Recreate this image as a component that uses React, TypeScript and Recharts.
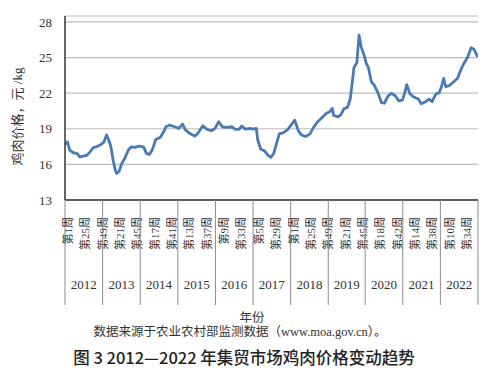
import React from 'react';
import { LineChart, Line, XAxis, YAxis, CartesianGrid } from 'recharts';

// ---- data ----
const years = [2012, 2013, 2014, 2015, 2016, 2017, 2018, 2019, 2020, 2021, 2022];
const weeksInYear = [52, 52, 52, 52, 52, 52, 52, 51, 52, 52, 52];

// [week, price (元/kg)] readings per year
const p2012: [number, number][] = [
  [1, 17.7], [4, 17.9], [7, 17.2], [12, 16.98], [17, 16.93], [21, 16.64], [26, 16.7],
  [31, 16.78], [35, 17.06], [40, 17.43], [44, 17.48], [49, 17.63],
];
const p2013: [number, number][] = [
  [2, 17.85], [6, 18.47], [9, 18.05], [12, 17.48], [15, 16.36], [18, 15.52], [20, 15.24],
  [23, 15.38], [27, 16.08], [31, 16.5], [36, 17.2], [40, 17.48], [45, 17.43], [51, 17.54],
];
const p2014: [number, number][] = [
  [5, 17.48], [9, 16.93], [13, 16.84], [17, 17.2], [22, 18.1], [28, 18.27], [33, 18.75],
  [36, 19.17], [41, 19.31], [48, 19.17],
];
const p2015: [number, number][] = [
  [2, 19.03], [7, 19.4], [11, 18.9], [17, 18.61], [24, 18.38], [28, 18.61], [35, 19.25],
  [41, 18.95], [47, 18.83], [52, 19.03],
];
const p2016: [number, number][] = [
  [5, 19.59], [10, 19.17], [16, 19.12], [23, 19.17], [28, 18.95], [33, 18.95], [37, 19.23],
  [42, 18.97], [48, 19.03], [52, 18.97],
];
const p2017: [number, number][] = [
  [5, 19.03], [7, 18.05], [11, 17.3], [16, 17.15], [21, 16.78], [25, 16.59], [29, 16.9],
  [33, 17.77], [37, 18.6], [42, 18.65], [48, 18.9],
];
const p2018: [number, number][] = [
  [1, 19.3], [6, 19.73], [11, 18.85], [15, 18.5], [21, 18.35], [27, 18.55], [33, 19.2],
  [38, 19.6], [44, 19.95], [50, 20.3],
];
const p2019: [number, number][] = [
  [3, 20.45], [6, 20.72], [8, 20.12], [14, 20.01], [18, 20.2], [22, 20.68], [27, 20.8],
  [31, 21.55], [34, 23.1], [36, 24.15], [40, 24.55], [43, 26.89], [46, 25.9], [50, 25.2],
];
const p2020: [number, number][] = [
  [2, 24.5], [5, 24.15], [9, 22.96], [13, 22.68], [18, 22.05], [23, 21.2], [27, 21.15],
  [32, 21.75], [37, 21.98], [42, 21.78], [47, 21.35], [52, 21.42],
];
const p2021: [number, number][] = [
  [3, 22.0], [6, 22.72], [10, 21.98], [15, 21.7], [22, 21.5], [26, 21.1], [32, 21.28],
  [37, 21.5], [41, 21.28], [46, 21.9], [51, 22.05],
];
const p2022: [number, number][] = [
  [2, 22.54], [5, 23.24], [8, 22.54], [13, 22.65], [19, 22.96], [24, 23.24], [29, 24.0],
  [33, 24.5], [38, 25.0], [41, 25.48], [43, 25.82], [47, 25.7], [52, 25.06],
];
const pricesByYear = [p2012, p2013, p2014, p2015, p2016, p2017, p2018, p2019, p2020, p2021, p2022];

const weekTickLabels = [
  '第1周', '第25周', '第49周', '第21周', '第45周', '第17周', '第41周', '第13周', '第37周',
  '第9周', '第33周', '第5周', '第29周', '第1周', '第25周', '第49周', '第21周', '第45周',
  '第18周', '第42周', '第14周', '第38周', '第10周', '第34周',
];
const yTicks = [13, 16, 19, 22, 25, 28];

// ---- derived ----
const yearStarts: number[] = [];
{
  let s = 0;
  weeksInYear.forEach((n) => { yearStarts.push(s); s += n; });
}
const totalWeeks = weeksInYear.reduce((a, b) => a + b, 0);

const data = pricesByYear.flatMap((arr, yi) =>
  arr.map(([w, v]) => ({ x: yearStarts[yi] + w - 1, price: v }))
);

type TickKind = { kind: 'week' | 'bound' | 'year'; label?: string };
const tickMap = new Map<number, TickKind>();
weekTickLabels.forEach((l, i) => tickMap.set(i * 24, { kind: 'week', label: l }));
yearStarts.forEach((s) => tickMap.set(s - 0.5, { kind: 'bound' }));
tickMap.set(totalWeeks - 0.5, { kind: 'bound' });
years.forEach((y, i) => {
  const c = (yearStarts[i] - 0.5 + yearStarts[i] + weeksInYear[i] - 0.5) / 2;
  tickMap.set(c, { kind: 'year', label: String(y) });
});
const xTicks = Array.from(tickMap.keys()).sort((a, b) => a - b);

const SERIF = '"Liberation Serif", "Times New Roman", "Noto Sans CJK SC", serif';
const CJK = '"Liberation Serif", "Noto Sans CJK SC", serif';

const XTick = (props: any) => {
  const { x, y, payload } = props;
  const t = tickMap.get(payload.value);
  if (!t) return null;
  if (t.kind === 'bound') {
    return <line x1={x} x2={x} y1={y} y2={y + 105} stroke="#8c8c8c" strokeWidth={1} />;
  }
  if (t.kind === 'year') {
    return (
      <text x={x} y={y + 84} textAnchor="middle" dominantBaseline="central"
        fontFamily={SERIF} fontSize={13} fill="#333">{t.label}</text>
    );
  }
  return (
    <text transform={`translate(${x + 2.5},${y + 17}) rotate(-90)`} textAnchor="end"
      dominantBaseline="central" fontFamily={CJK} fontSize={11} fill="#333">{t.label}</text>
  );
};

export default function App() {
  return (
    <div style={{ position: 'fixed', left: 0, top: 0, width: 486, height: 375, background: '#fff' }}>
      <LineChart width={486} height={375} data={data} margin={{ top: 16, right: 8, left: 0, bottom: 0 }}>
        <CartesianGrid vertical={false} stroke="#bdbdbd" strokeWidth={1.2} />
        <XAxis dataKey="x" type="number" domain={[-0.5, totalWeeks - 0.5]} ticks={xTicks}
          interval={0} tick={<XTick />} tickLine={false} tickSize={0} tickMargin={0}
          height={175} axisLine={{ stroke: '#333', strokeWidth: 1.5 }} allowDataOverflow />
        <YAxis type="number" domain={[13, 28.5]} ticks={yTicks} width={65} tickLine={false}
          tickMargin={7} axisLine={{ stroke: '#333', strokeWidth: 1.5 }}
          tick={{ fontFamily: SERIF, fontSize: 13, fill: '#333' }} allowDataOverflow />
        <Line type="linear" dataKey="price" stroke="#4a7ab5" strokeWidth={2.8} dot={false}
          isAnimationActive={false} strokeLinejoin="round" />
      </LineChart>
      <svg width={486} height={375} style={{ position: 'absolute', left: 0, top: 0, pointerEvents: 'none' }}>
        <text transform="translate(17.5,116.5) rotate(-90)" textAnchor="middle" dominantBaseline="central"
          fontFamily={CJK} fontSize={13} fill="#333">鸡肉价格，元 /kg</text>
        <text x={252} y={317.5} textAnchor="middle" dominantBaseline="central"
          fontFamily={CJK} fontSize={12.5} fill="#333">年份</text>
        <text x={240} y={332} textAnchor="middle" dominantBaseline="central"
          fontFamily={CJK} fontSize={12.5} fill="#333">数据来源于农业农村部监测数据（www.moa.gov.cn）。</text>
        <text x={244} y={357} textAnchor="middle" dominantBaseline="central"
          fontFamily='"Noto Sans CJK SC", sans-serif' fontWeight={500} fontSize={16.5} fill="#222">图 3 2012—2022 年集贸市场鸡肉价格变动趋势</text>
      </svg>
    </div>
  );
}
